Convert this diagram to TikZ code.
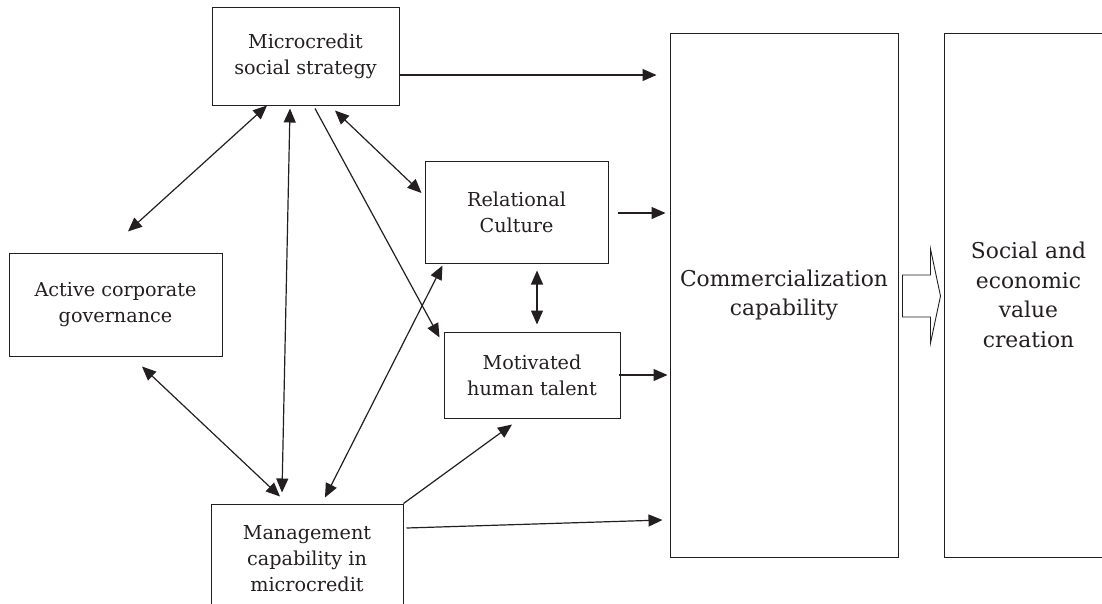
\documentclass[tikz,border=0pt]{standalone}
\usepackage{fontspec}
\setmainfont{DejaVu Serif}
\usepackage{xcolor}
\usepackage{tikz}
\usetikzlibrary{arrows.meta,calc}
\definecolor{inkgrey}{RGB}{35,31,32}
\tikzstyle{factor} = [rectangle, draw=inkgrey, line width=1pt, align=center, text=inkgrey, inner sep=0pt, font=\fontsize{19.2}{26}\selectfont]
\tikzstyle{outcome} = [rectangle, draw=inkgrey, line width=1pt, align=center, text=inkgrey, inner sep=0pt, font=\fontsize{21.8}{29.6}\selectfont]
\tikzstyle{link} = [line width=1.2pt, draw=inkgrey, -{Triangle[length=14pt,width=12pt]}]
\tikzstyle{bilink} = [line width=1.2pt, draw=inkgrey, {Triangle[length=14pt,width=12pt]}-{Triangle[length=14pt,width=12pt]}]

\begin{document}
\begin{tikzpicture}[x=1pt, y=-1pt]
\useasboundingbox (0,0) rectangle (1102,603);
\clip (0,0) rectangle (1102,603);

% Drivers
\node [factor, minimum width=187pt, minimum height=98pt] (strategy) at (305.5,56) {Microcredit\\social strategy};
\node [factor, minimum width=213pt, minimum height=103pt] (governance) at (115.5,304.5) {Active corporate\\governance};
\node [factor, minimum width=183pt, minimum height=102pt] (culture) at (516.5,212) {Relational\\Culture};
\node [factor, minimum width=176pt, minimum height=86pt] (talent) at (532,375) {Motivated\\human talent};
\node [factor, minimum width=192pt, minimum height=110pt] (management) at (307,559) {Management\\capability in\\microcredit};

% Outcomes
\node [outcome, minimum width=228pt, minimum height=524pt] (commercial) at (784,295) {Commercialization\\capability};
\node [outcome, minimum width=169pt, minimum height=524pt] (value) at (1028.5,295) {Social and\\economic\\value\\creation};

% Hollow arrow between outcomes
\draw [line width=0.9pt, draw=inkgrey] ($(commercial.east)+(4,-20)$) -- ++(28,0) -- ++(0,-26) -- ++(10,47) -- ++(-10,47) -- ++(0,-26) -- ++(-28,0) -- cycle;

% Links between drivers
\draw [bilink] ($(strategy.south)+(-38.5,0)$) -- ($(governance.north)+(12.5,-21)$);
\draw [bilink] ($(governance.south)+(26.5,10)$) -- ($(management.north)+(-27,-7)$);
\draw [bilink] ($(strategy.south)+(-15.5,3)$) -- ($(management.north)+(-25,-11)$);
\draw [link] ($(strategy.south)+(9.5,3)$) -- ($(talent.north west)+(-4,6)$);
\draw [bilink] ($(strategy.south)+(29.5,5)$) -- ($(culture.west)+(-3,-19)$);
\draw [bilink] ($(culture.south west)+(18,2)$) -- ($(management.north)+(18,-6)$);
\draw [link] (management.north east) -- ($(talent.south)+(-20,6)$);
\draw [bilink] ($(culture.south)+(20.5,7)$) -- ($(talent.north)+(5,-7)$);

% Links into commercialization
\draw [link] ($(strategy.east)+(0,19)$) -- ($(commercial.west)+(-13,-220)$);
\draw [link] ($(culture.east)+(9,1)$) -- ($(commercial.west)+(-4,-82)$);
\draw [link] ($(talent.east)+(-2,0)$) -- ($(commercial.west)+(-2,80)$);
\draw [link] ($(management.east)+(3,-31)$) -- ($(commercial.west)+(-7,225)$);

\end{tikzpicture}
\end{document}
